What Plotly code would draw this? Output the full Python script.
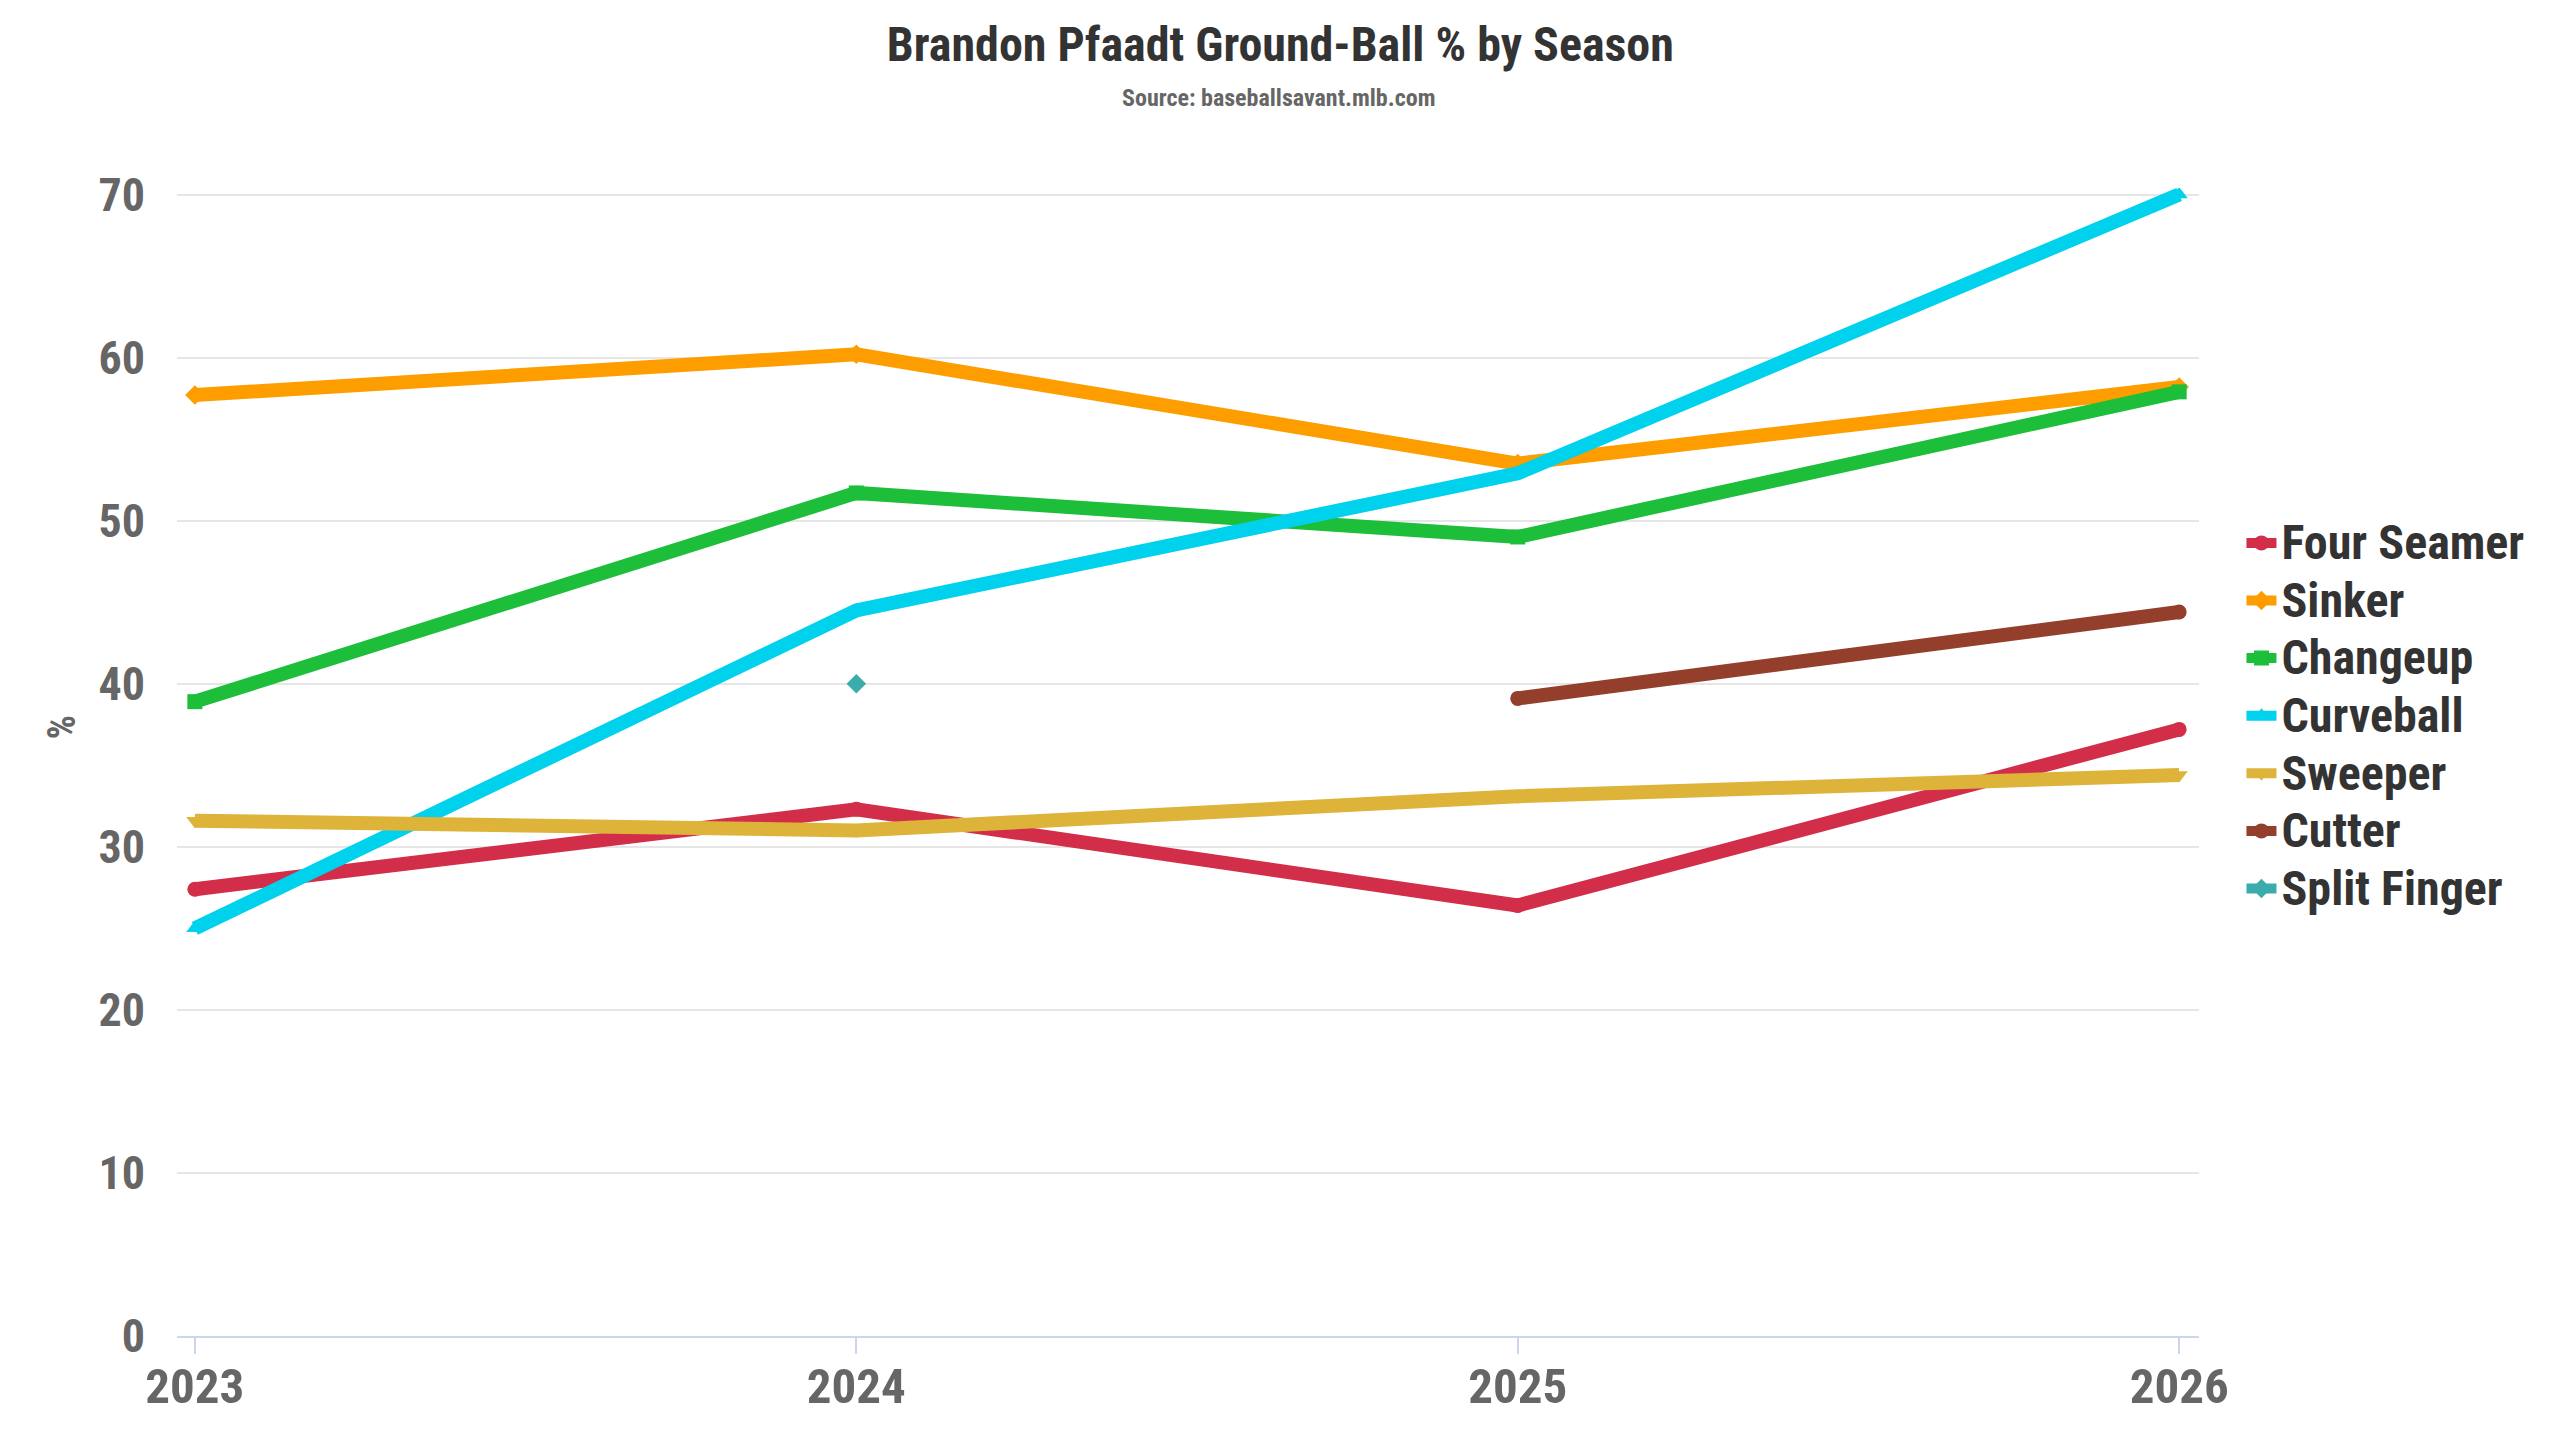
import plotly.graph_objects as go

seasons = [2023, 2024, 2025, 2026]

four_seamer = [27.4, 32.3, 26.4, 37.2]
sinker = [57.7, 60.2, 53.5, 58.2]
changeup = [38.9, 51.7, 49.0, 57.9]
curveball = [25.0, 44.5, 52.9, 70.0]
sweeper = [31.6, 31.0, 33.1, 34.4]
cutter = [None, None, 39.1, 44.4]
split_finger = [None, 40.0, None, None]

pitches = [
    ("Four Seamer", four_seamer, "#D22D49", "circle"),
    ("Sinker", sinker, "#FE9D00", "diamond"),
    ("Changeup", changeup, "#1DBE3A", "square"),
    ("Curveball", curveball, "#00D1ED", "triangle-up"),
    ("Sweeper", sweeper, "#DDB33A", "triangle-down"),
    ("Cutter", cutter, "#933F2C", "circle"),
    ("Split Finger", split_finger, "#3BACAC", "diamond"),
]

FONT = "Roboto Condensed, Roboto, sans-serif"

fig = go.Figure()
for name, vals, col, sym in pitches:
    fig.add_trace(go.Scatter(
        x=seasons, y=vals, mode="lines+markers",
        name="<span style='font-size:48px'>" + name + "</span>",
        line=dict(color=col, width=14),
        marker=dict(color=col, symbol=sym, size=15),
        connectgaps=False,
    ))

fig.update_layout(
    width=2560, height=1440,
    paper_bgcolor="white", plot_bgcolor="white",
    margin=dict(l=169, r=369, t=180, b=112),
    font=dict(family=FONT, color="#333333"),
    title=dict(
        text="<b>Brandon Pfaadt Ground-Ball % by Season</b>",
        x=0.497, xanchor="center", xref="container",
        y=0.975, yanchor="middle", yref="container",
        font=dict(size=48, color="#333333", family=FONT),
    ),
    legend=dict(
        x=1.021, xanchor="left", y=0.54, yanchor="middle",
        font=dict(size=42, color="#333333", family=FONT, weight="bold"),
        tracegroupgap=0, itemwidth=30, bgcolor="rgba(0,0,0,0)",
    ),
    xaxis=dict(
        range=[2022.973, 2026.03], tickvals=seasons, ticktext=[str(s) for s in seasons],
        showgrid=False, zeroline=False,
        showline=True, linecolor="#ccd6eb", linewidth=2,
        ticks="outside", ticklen=16, tickcolor="#ccd6eb", tickwidth=2,
        ticklabelstandoff=-10,
        tickfont=dict(size=49, color="#666666", family=FONT, weight="bold"),
    ),
    yaxis=dict(
        range=[0, 70.4], tickvals=[0, 10, 20, 30, 40, 50, 60, 70],
        showgrid=True, gridcolor="#e6e6e6", gridwidth=2, zeroline=False,
        tickfont=dict(size=46, color="#666666", family=FONT, weight="bold"),
        ticks="", ticklabelstandoff=31,
    ),
    annotations=[
        # subtitle, centred under the title about 90 px from the top
        dict(text="<b>Source: baseballsavant.mlb.com</b>", xref="paper", yref="paper",
             x=(1270 - 169) / 2022, y=1 + (180 - 90) / 1148, xanchor="center", yanchor="middle",
             showarrow=False, font=dict(size=24, color="#666666", family=FONT)),
        dict(text="<b>%</b>", xref="paper", yref="paper", x=-0.057, y=0.53,
             textangle=-90, showarrow=False, xanchor="center", yanchor="middle",
             font=dict(size=38, color="#666666", family=FONT)),
    ],
)

fig.write_html("out.html")
